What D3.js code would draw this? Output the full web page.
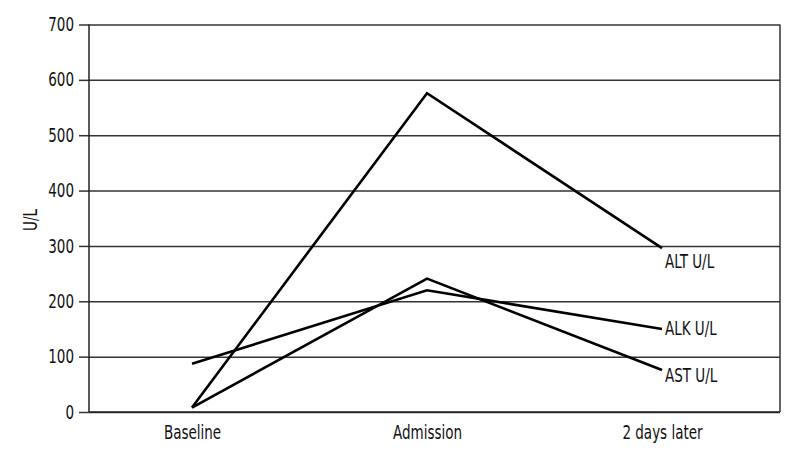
<!DOCTYPE html>
<html>
<head>
<meta charset="utf-8">
<script src="https://cdn.jsdelivr.net/npm/d3@7/dist/d3.min.js"></script>
<style>
  body { margin: 0; background: #fff; }
  text { font-family: "DejaVu Sans Condensed", "DejaVu Sans", sans-serif; fill: #111; }
</style>
</head>
<body>
<svg id="chart" width="800" height="460"></svg>
<script>
const categories = ["Baseline", "Admission", "2 days later"];
const altValues = [8, 576, 296];
const astValues = [8, 241, 76];
const alkValues = [87, 220, 150];
const seriesNames = ["ALT U/L", "ALK U/L", "AST U/L"];
const yTicks = [0, 100, 200, 300, 400, 500, 600, 700];
const yTitle = "U/L";

const series = [
  { name: seriesNames[0], values: altValues },
  { name: seriesNames[1], values: alkValues },
  { name: seriesNames[2], values: astValues }
];
const labelShift = { "ALT U/L": 20, "ALK U/L": 6, "AST U/L": 12 };
const FONT = '"DejaVu Sans Condensed", "DejaVu Sans", sans-serif';
const FS = 19;
const SX = 0.79;

function condense(sel, sx) {
  sel.each(function () {
    const t = d3.select(this);
    const x0 = +t.attr("x") || 0;
    const y0 = +t.attr("y") || 0;
    const prev = t.attr("transform") || "";
    t.attr("x", 0).attr("y", 0)
     .attr("transform", `${prev} translate(${x0},${y0}) scale(${sx},1)`);
  });
}

const svg = d3.select("#chart");
const plot = { left: 89, right: 780, top: 24.5, bottom: 412 };

const x = d3.scalePoint().domain(categories).range([192, 662]);
const y = d3.scaleLinear().domain([0, 700]).range([plot.bottom, plot.top]);

const yAxis = d3.axisLeft(y).tickValues(yTicks).tickSize(-(plot.right - plot.left)).tickPadding(6).tickSizeOuter(0);
const gy = svg.append("g").attr("transform", `translate(${plot.left},0)`).call(yAxis);
gy.select(".domain").remove();
gy.selectAll(".tick line").attr("stroke", "#333").attr("stroke-width", 1.5);
gy.selectAll(".tick").append("line").attr("x1", -10).attr("x2", 0).attr("stroke", "#333").attr("stroke-width", 1.5);
gy.selectAll(".tick text").attr("x", -15).attr("font-size", FS).attr("fill", "#111")
  .style("font-family", FONT).call(condense, SX);

svg.append("line").attr("x1", plot.left).attr("x2", plot.left).attr("y1", plot.top).attr("y2", plot.bottom)
  .attr("stroke", "#222").attr("stroke-width", 1.5);
svg.append("line").attr("x1", plot.right).attr("x2", plot.right).attr("y1", plot.top).attr("y2", plot.bottom)
  .attr("stroke", "#333").attr("stroke-width", 1.5);
svg.append("line").attr("x1", plot.left).attr("x2", plot.right).attr("y1", plot.bottom).attr("y2", plot.bottom)
  .attr("stroke", "#222").attr("stroke-width", 1.5);

const xAxis = d3.axisBottom(x).tickSize(0).tickPadding(13);
const gx = svg.append("g").attr("transform", `translate(0,${plot.bottom})`).call(xAxis);
gx.select(".domain").remove();
gx.selectAll(".tick text").attr("font-size", FS).attr("fill", "#111")
  .style("font-family", FONT).call(condense, SX);

svg.append("text").attr("transform", `translate(37,220) rotate(-90) scale(${SX},1)`)
  .attr("text-anchor", "middle").attr("font-size", FS).text(yTitle);

const line = d3.line().x((d, i) => x(categories[i])).y(d => y(d));
svg.selectAll(".series").data(series).enter().append("path")
  .attr("d", d => line(d.values)).attr("fill", "none")
  .attr("stroke", "#000").attr("stroke-width", 2.6).attr("stroke-linejoin", "miter");

svg.selectAll(".lbl").data(series).enter().append("text")
  .attr("x", x(categories[2]) + 3)
  .attr("y", d => y(d.values[2]) + labelShift[d.name])
  .attr("font-size", FS).text(d => d.name).call(condense, SX);
</script>
</body>
</html>
